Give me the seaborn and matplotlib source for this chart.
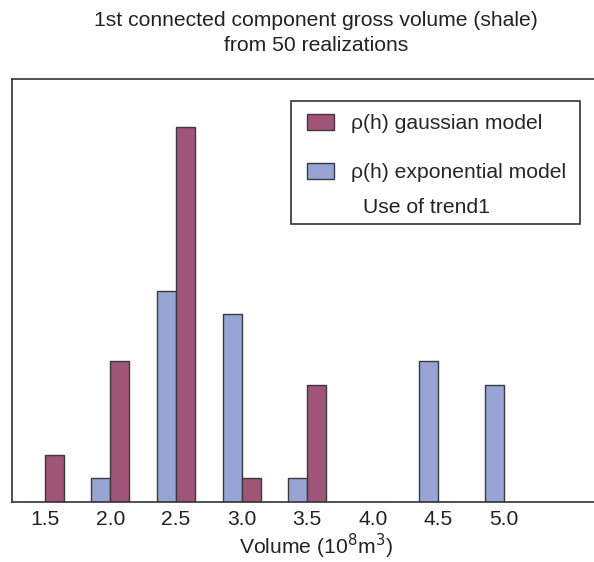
import matplotlib
matplotlib.use('Agg')
import matplotlib.pyplot as plt
import seaborn as sns
import pandas as pd
from matplotlib.patches import Rectangle

# Histogram counts
volumes = ['1.5', '2.0', '2.5', '3.0', '3.5', '4.0', '4.5', '5.0']
gaussian = [2, 6, 16, 1, 5, 0, 0, 0]
exponential = [0, 1, 9, 8, 1, 0, 6, 5]

gauss_label = 'ρ(h) gaussian model'
expo_label = 'ρ(h) exponential model'
purple = '#A05478'
blue = '#98A5D4'
fs = 15.2

df = pd.DataFrame({
    'volume': volumes * 2,
    'model': [expo_label] * len(volumes) + [gauss_label] * len(volumes),
    'count': exponential + gaussian,
})

sns.set_style('white')
plt.rcParams['font.family'] = ['Liberation Sans', 'DejaVu Sans']

fig = plt.figure(figsize=(5.94, 5.62), dpi=100)
ax = fig.add_axes([12 / 594, 1 - 501.7 / 562, 608 / 594, (501.7 - 79) / 562])

sns.barplot(data=df, x='volume', y='count', hue='model', order=volumes,
            hue_order=[expo_label, gauss_label],
            palette={expo_label: blue, gauss_label: purple},
            width=0.58, edgecolor='#3a3a3a', linewidth=1.0, saturation=1,
            legend=False, ax=ax)

ax.set_xlim(-0.5, 8.77)
ax.set_ylim(0, 18.06)
ax.set_yticks([])
ax.set_ylabel('')
ax.tick_params(axis='x', length=0, pad=6, labelsize=fs, colors='#222222')
ax.set_xlabel('Volume (10$^8$m$^3$)', fontsize=fs, labelpad=2, color='#222222')
for side in ['left', 'top', 'bottom']:
    ax.spines[side].set_color('#333333')
    ax.spines[side].set_linewidth(1.2)
ax.spines['right'].set_visible(False)

ax.set_title('1st connected component gross volume (shale)\nfrom 50 realizations',
             fontsize=fs, pad=20, linespacing=1.4, color='#222222')

# legend box with the two models and a note
fig.patches.append(Rectangle((291 / 594, 1 - 224 / 562), 289 / 594, 123 / 562,
                             transform=fig.transFigure, fill=False,
                             edgecolor='#333333', linewidth=1.2))
handles = [plt.Rectangle((0, 0), 1, 1, facecolor=purple, edgecolor='#3a3a3a'),
           plt.Rectangle((0, 0), 1, 1, facecolor=blue, edgecolor='#3a3a3a')]
fig.legend(handles, [gauss_label, expo_label], loc='upper left',
           bbox_to_anchor=(307 / 594, 1 - 114 / 562), frameon=False,
           fontsize=fs, borderpad=0, borderaxespad=0, handlelength=1.3,
           handleheight=0.8, handletextpad=0.8, labelspacing=1.4)
fig.text(363 / 594, 1 - 208 / 562, 'Use of trend1', fontsize=fs,
         va='center', color='#222222')

fig.savefig('out.png', dpi=100)
